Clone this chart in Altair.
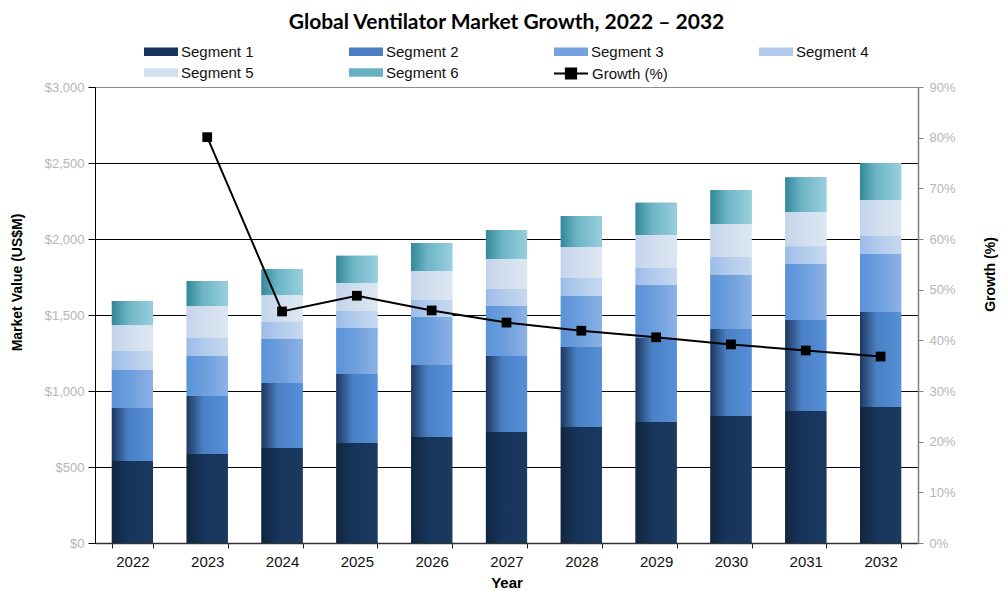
import altair as alt
import pandas as pd

years = ["2022", "2023", "2024", "2025", "2026", "2027", "2028", "2029", "2030", "2031", "2032"]
segments = ["Segment 1", "Segment 2", "Segment 3", "Segment 4", "Segment 5", "Segment 6"]
seg1 = [539, 586, 625, 658, 697, 730, 763, 796, 836, 868, 895]
seg2 = [349, 382, 428, 454, 474, 500, 526, 553, 572, 599, 625]
seg3 = [250, 263, 289, 303, 316, 329, 336, 349, 355, 368, 382]
seg4 = [125, 118, 112, 112, 112, 112, 118, 112, 118, 118, 118]
seg5 = [171, 211, 178, 184, 191, 197, 204, 217, 217, 224, 237]
seg6 = [158, 164, 171, 178, 184, 191, 204, 211, 224, 230, 243]
growth_years = ["2023", "2024", "2025", "2026", "2027", "2028", "2029", "2030", "2031", "2032"]
growth = [80.1, 45.7, 48.8, 45.9, 43.5, 41.9, 40.6, 39.2, 38.0, 36.8]
value_ticks = [0, 500, 1000, 1500, 2000, 2500, 3000]
growth_ticks = [0, 10, 20, 30, 40, 50, 60, 70, 80, 90]

solid_colors = ["#18345a", "#4a7fc4", "#74a2e0", "#b3cbec", "#d3e0f0", "#68b0c2"]
gradients = [
    ["#11263f", "#17345a", "#1b3a60"],
    ["#1e385f", "#4a80c4", "#5690d8"],
    ["#5a92d8", "#6a9ddc", "#8cb2e6"],
    ["#9bbbe8", "#b0caec", "#c6d8ef"],
    ["#c3d4eb", "#d0ddee", "#dde7f2"],
    ["#33879a", "#6db5c6", "#98cfdd"],
]

rows = []
for i, seg in enumerate(segments):
    vals = [seg1, seg2, seg3, seg4, seg5, seg6][i]
    for y, v in zip(years, vals):
        rows.append({"year": y, "segment": seg, "order": i, "value": v})
df = pd.DataFrame(rows)
gdf = pd.DataFrame({"year": growth_years, "growth": growth, "label": ["Growth (%)"] * len(growth)})

LABEL_FONT = "Liberation Sans"

x_enc = alt.X(
    "year:O",
    title="Year",
    scale=alt.Scale(paddingInner=0.45, paddingOuter=0.225),
    axis=alt.Axis(
        tickBand="extent", labelAngle=0, labelFont=LABEL_FONT, labelFontSize=15,
        labelColor="#111111", labelPadding=6, domainColor="#333333", domainWidth=1.5,
        tickColor="#222222", tickSize=5, titleFont=LABEL_FONT, titleFontSize=15,
        titleFontWeight="bold", titleColor="#000000", titlePadding=6,
    ),
)

y_enc = alt.Y(
    "v0:Q",
    title="Market Value (US$M)",
    scale=alt.Scale(domain=[0, 3000], nice=False),
    axis=alt.Axis(
        values=value_ticks, labelExpr="'$' + format(datum.value, ',')",
        labelFont=LABEL_FONT, labelFontSize=13, labelColor="#b5b5b5", labelPadding=4,
        domainColor="#000000", tickColor="#000000", tickSize=7,
        grid=True,
        gridColor={"condition": {"test": "datum.value == 3000", "value": "#8c8c8c"}, "value": "#000000"},
        gridWidth=1,
        titleFont=LABEL_FONT, titleFontSize=14, titleFontWeight="bold", titleColor="#000000",
        titleAngle=270, titleX=-78, titleY=195, titleAlign="center", titleBaseline="middle",
    ),
)

base = alt.Chart(df).transform_stack(
    stack="value", groupby=["year"], as_=["v0", "v1"],
    sort=[alt.SortField("order", order="ascending")],
)

# symbol: 34 x 8.5 px rectangle starting at the entry's left edge
rect_path = "M-1,-0.5H3V0.5H-1Z"
solid = base.mark_bar().encode(
    x=x_enc, y=y_enc, y2="v1:Q",
    color=alt.Color(
        "segment:N",
        scale=alt.Scale(domain=segments, range=solid_colors),
        legend=alt.Legend(
            orient="none", legendX=49, legendY=-44, columns=4, direction="horizontal",
            title=None, symbolType=rect_path, symbolSize=289, symbolStrokeWidth=0,
            labelFont=LABEL_FONT, labelFontSize=15, labelColor="#111111",
            labelOffset=20, columnPadding=95, rowPadding=4, padding=0,
        ),
    ),
)

layers = [solid]
for seg, stops in zip(segments, gradients):
    g = alt.Gradient(
        gradient="linear",
        stops=[alt.GradientStop(color=stops[0], offset=0),
               alt.GradientStop(color=stops[1], offset=0.4),
               alt.GradientStop(color=stops[2], offset=1)],
        x1=0, x2=1, y1=0, y2=0,
    )
    layers.append(
        base.transform_filter(alt.datum.segment == seg)
        .mark_bar(color=g)
        .encode(x=x_enc, y=y_enc, y2="v1:Q")
    )
bars = alt.layer(*layers)

gy_enc = alt.Y(
    "growth:Q",
    title="Growth (%)",
    scale=alt.Scale(domain=[0, 90], nice=False),
    axis=alt.Axis(
        orient="right", values=growth_ticks, labelExpr="datum.value + '%'",
        labelFont=LABEL_FONT, labelFontSize=13, labelColor="#b5b5b5", labelPadding=6,
        domainColor="#808080", domainWidth=1.5, tickColor="#808080", tickSize=5, grid=False,
        titleFont=LABEL_FONT, titleFontSize=14, titleFontWeight="bold", titleColor="#000000",
        titleAngle=270, titleX=72, titleY=187, titleAlign="center", titleBaseline="middle",
    ),
)

line_path = "M-1,0H3M0.4,-0.6H1.6V0.6H0.4Z"
line = alt.Chart(gdf).mark_line(strokeWidth=2).encode(
    x=x_enc, y=gy_enc,
    stroke=alt.Stroke(
        "label:N",
        scale=alt.Scale(range=["#000000"]),
        legend=alt.Legend(
            orient="none", legendX=458, legendY=-23, title=None,
            symbolType=line_path, symbolSize=289, symbolStrokeWidth=2,
            symbolFillColor="#000000", symbolStrokeColor="#000000",
            labelFont=LABEL_FONT, labelFontSize=15, labelColor="#111111",
            labelOffset=20, padding=0,
        ),
    ),
)
pts = alt.Chart(gdf).mark_square(size=95, color="#000000", opacity=1).encode(x=x_enc, y=gy_enc)
growth_layer = alt.layer(line, pts)

chart = alt.layer(bars, growth_layer).resolve_scale(
    y="independent", color="independent", stroke="independent"
).properties(
    width=823, height=456,
    autosize=alt.AutoSizeParams(type="none"),
    padding={"left": 87, "top": 79, "right": 82, "bottom": 48},
    title=alt.TitleParams(
        "Global Ventilator Market Growth, 2022 – 2032",
        font="Lato", fontSize=21, fontWeight="bold", color="#000000",
        anchor="middle", offset=10, frame="group",
    ),
).configure_view(stroke=None)

chart.save("out.html", embed_options={"renderer": "svg", "actions": False})
